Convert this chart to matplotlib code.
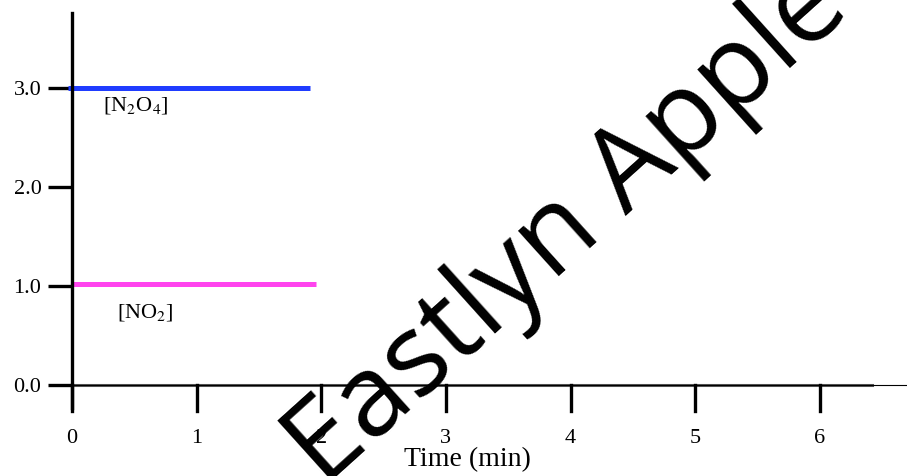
import matplotlib
matplotlib.use('Agg')
import matplotlib.pyplot as plt

plt.rcParams['mathtext.fontset'] = 'stix'

# --- data ---
n2o4_t = [-0.03, 1.91]
n2o4_c = [3.0, 3.0]
no2_t = [0.0, 1.96]
no2_c = [1.02, 1.02]
x_ticks = [0, 1, 2, 3, 4, 5, 6]
y_ticks = [0.0, 1.0, 2.0, 3.0]
y_labels = ['0.0', '1.0', '2.0', '3.0']

serif = ['Liberation Serif', 'DejaVu Serif']

fig = plt.figure(figsize=(9.07, 4.76), dpi=100)
ax = fig.add_axes([72 / 907, 68 / 476, 835 / 907, 395 / 476])
ax.set_xlim(0, 6.70)
ax.set_ylim(-0.232, 3.757)

ax.plot(n2o4_t, n2o4_c, color='#1f3cff', lw=3.6, solid_capstyle='butt', clip_on=False)
ax.plot(no2_t, no2_c, color='#ff44ee', lw=3.6, solid_capstyle='butt')

# baseline at zero: gray data line plus thin black line to the edge
ax.plot([0, 6.42], [0, 0], color='#555555', lw=2.2)
ax.axhline(0, color='black', lw=0.8)

for s in ['top', 'right', 'bottom']:
    ax.spines[s].set_visible(False)
ax.spines['left'].set_linewidth(2.4)

ax.set_yticks(y_ticks)
ax.set_yticklabels(y_labels, fontfamily=serif, fontsize=16)
ax.tick_params(axis='y', direction='out', length=17, width=2.4, pad=5)

# x ticks hang from y=0 rather than the axes bottom
ax.set_xticks(x_ticks)
ax.set_xticklabels([str(t) for t in x_ticks], fontfamily=serif, fontsize=16)
ax.tick_params(axis='x', length=0, pad=15)
for t in x_ticks:
    ax.plot([t, t], [0, -0.26], color='black', lw=2.4, clip_on=False)

ax.text(0.25, 2.82, r'[N$_2$O$_4$]', fontfamily=serif, fontsize=16, va='center')
ax.text(0.36, 0.73, r'[NO$_2$]', fontfamily=serif, fontsize=16, va='center')
fig.text(467 / 907, 1 - 460 / 476, 'Time (min)', fontfamily=serif, fontsize=20,
         ha='center', va='center')

# watermark
fig.text(568 / 907, 1 - 228 / 476, 'Eastlyn Apple', fontsize=82, family='Open Sans',
         rotation=42, ha='center', va='center', rotation_mode='anchor', color='black')

fig.savefig('out.png', dpi=100)
